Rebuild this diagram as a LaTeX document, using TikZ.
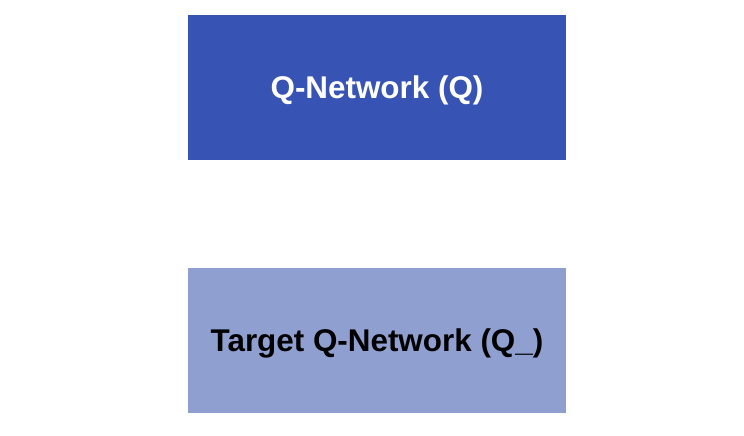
\documentclass[tikz,border=0pt]{standalone}
\usepackage{fontspec}
\setmainfont{Liberation Sans}
\definecolor{qdark}{HTML}{3754B5}
\definecolor{qlight}{HTML}{8F9FD0}
\begin{document}
\begin{tikzpicture}[x=1pt,y=1pt,
  netbox/.style={rectangle, minimum width=378pt, minimum height=145.5pt, inner sep=0pt, draw=none,
    text height=22.5pt, text depth=0pt, font=\fontsize{31.4}{36}\selectfont\bfseries}]
\useasboundingbox (0,0) rectangle (744,436);
\node[netbox, fill=qdark, text=white] (q) at (377,348.3) {Q-Network (Q)};
\node[netbox, fill=qlight, text=black] (qt) at (377,95.3) {Target Q-Network (Q\_)};
\end{tikzpicture}
\end{document}
